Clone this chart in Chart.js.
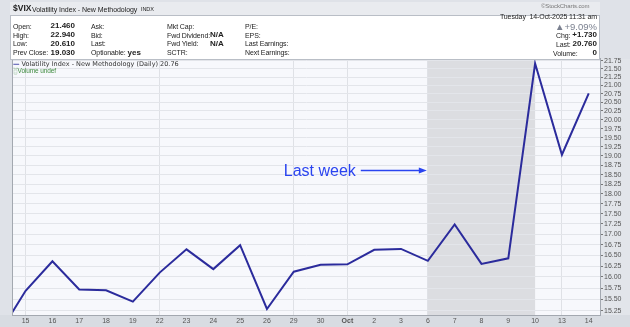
<!DOCTYPE html>
<html>
<head>
<meta charset="utf-8">
<script src="https://cdn.jsdelivr.net/npm/chart.js@4.4.1/dist/chart.umd.min.js"></script>
<style>
  body { margin: 0; background: #dfe2e8; }
  .wrap { position: relative; width: 630px; height: 327px; overflow: hidden; font-family: 'Liberation Sans', Arial, sans-serif; color: #222; }
  canvas { position: absolute; left: 0; top: 0; }
  .hdr { position: absolute; left: 10px; top: 2px; width: 590px; height: 13px; background: #e9ebef; }
  .info { position: absolute; left: 10px; top: 15px; width: 588px; height: 43px; background: #fff; border: 1px solid #b9bec6; }
  .t { position: absolute; white-space: nowrap; font-size: 7px; line-height: 9px; letter-spacing: -0.1px; }
  .b { font-weight: bold; font-size: 8px; letter-spacing: 0; }
  .r { text-align: right; }
</style>
</head>
<body>
<div class="wrap">
  <canvas id="chart" width="630" height="327"></canvas>
  <div class="hdr"></div>
  <div class="info"></div>
  <div class="t b" style="left:13px;top:4px;font-size:8.5px;">$VIX</div>
  <div class="t" style="left:32px;top:4.5px;font-size:7px;letter-spacing:-0.05px;">Volatility Index - New Methodology</div>
  <div class="t" style="left:141px;top:5px;font-size:5.5px;">INDX</div>
  <div class="t" style="left:541px;top:1.5px;font-size:6px;color:#777;">&copy;StockCharts.com</div>

  <div class="t" style="left:13px;top:21.5px;">Open:</div>
  <div class="t" style="left:13px;top:30.5px;">High:</div>
  <div class="t" style="left:13px;top:39px;">Low:</div>
  <div class="t" style="left:13px;top:48px;">Prev Close:</div>
  <div class="t b r" style="left:40px;width:35px;top:21px;">21.460</div>
  <div class="t b r" style="left:40px;width:35px;top:30px;">22.940</div>
  <div class="t b r" style="left:40px;width:35px;top:38.5px;">20.610</div>
  <div class="t b r" style="left:40px;width:35px;top:47.5px;">19.030</div>

  <div class="t" style="left:91px;top:21.5px;">Ask:</div>
  <div class="t" style="left:91px;top:30.5px;">Bid:</div>
  <div class="t" style="left:91px;top:39px;">Last:</div>
  <div class="t" style="left:91px;top:48px;">Optionable: <span class="b">yes</span></div>

  <div class="t" style="left:167px;top:21.5px;">Mkt Cap:</div>
  <div class="t" style="left:167px;top:30.5px;">Fwd Dividend:</div>
  <div class="t" style="left:167px;top:39px;">Fwd Yield:</div>
  <div class="t" style="left:167px;top:48px;">SCTR:</div>
  <div class="t b" style="left:210px;top:30px;">N/A</div>
  <div class="t b" style="left:210px;top:38.5px;">N/A</div>

  <div class="t" style="left:245px;top:21.5px;">P/E:</div>
  <div class="t" style="left:245px;top:30.5px;">EPS:</div>
  <div class="t" style="left:245px;top:39px;">Last Earnings:</div>
  <div class="t" style="left:245px;top:48px;">Next Earnings:</div>

  <div class="t r" style="left:480px;width:117px;top:12px;">Tuesday&nbsp; 14-Oct-2025 11:31 am</div>
  <div class="t r" style="left:520px;width:77px;top:20.5px;font-size:9.5px;line-height:11px;letter-spacing:0;color:#7b8190;">&#9650;+9.09%</div>
  <div class="t" style="left:556px;top:30.5px;">Chg:</div>
  <div class="t b r" style="left:560px;width:37px;top:30px;">+1.730</div>
  <div class="t" style="left:556px;top:39.5px;">Last:</div>
  <div class="t b r" style="left:560px;width:37px;top:39px;">20.760</div>
  <div class="t" style="left:553px;top:48.5px;">Volume:</div>
  <div class="t b r" style="left:560px;width:37px;top:48px;">0</div>

  <div class="t" style="left:13px;top:60px;font-size:6.5px;letter-spacing:0;font-family:'DejaVu Sans';color:#333;"><span style="color:#2b2b9c;font-weight:bold;">&mdash;</span> Volatility Index - New Methodology (Daily) 20.76</div>
  <div class="t" style="left:13px;top:66px;font-size:6.5px;color:#3d8a3d;">&#9617;Volume undef</div>
</div>
<script>
  // trading days, first one (Sep 12) sits just left of the visible window
  const categories = ['12', '15', '16', '17', '18', '19', '22', '23', '24', '25', '26', '29', '30',
    'Oct', '2', '3', '6', '7', '8', '9', '10', '13', '14'];
  const vixClose = [14.76, 15.69, 16.36, 15.72, 15.70, 15.45, 16.10, 16.64, 16.18, 16.74, 15.29, 16.12, 16.28,
    16.29, 16.63, 16.65, 16.37, 17.24, 16.30, 16.43, 21.66, 19.03, 20.76];
  const yTicks = [15.25, 15.5, 15.75, 16, 16.25, 16.5, 16.75, 17, 17.25, 17.5, 17.75, 18, 18.25, 18.5,
    18.75, 19, 19.25, 19.5, 19.75, 20, 20.25, 20.5, 20.75, 21, 21.25, 21.5, 21.75];
  const gridDays = ['15', '22', '29', 'Oct', '6', '13'];
  const shadeFrom = '6';
  const shadeTo = '10';
  const noteText = 'Last week';
  const noteValue = 18.63;

  const idx = (label) => categories.indexOf(label);

  const chartFrame = {
    id: 'chartFrame',
    beforeDraw(chart) {
      const { ctx, chartArea: a } = chart;
      ctx.save();
      ctx.fillStyle = '#e2e5ea';
      ctx.fillRect(a.right, a.top, chart.width - a.right, chart.height - a.top);
      ctx.fillStyle = '#d8dce2';
      ctx.fillRect(0, a.bottom, chart.width, chart.height - a.bottom);
      ctx.fillStyle = '#f7f8fc';
      ctx.fillRect(a.left, a.top, a.right - a.left, a.bottom - a.top);
      const x = chart.scales.x;
      const x0 = x.getPixelForValue(idx(shadeFrom));
      const x1 = x.getPixelForValue(idx(shadeTo));
      ctx.fillStyle = '#dcdde1';
      ctx.fillRect(x0, a.top, x1 - x0, a.bottom - a.top);
      ctx.restore();
    },
    afterDraw(chart) {
      const { ctx, chartArea: a } = chart;
      const x = chart.scales.x;
      const y = chart.scales.y;
      ctx.save();
      ctx.strokeStyle = '#a3a8b0';
      ctx.lineWidth = 1;
      ctx.strokeRect(a.left - 0.5, a.top - 0.5, a.right - a.left + 1, a.bottom - a.top + 1);

      // "Last week" arrow
      const tipX = x.getPixelForValue(idx(shadeFrom)) - 1;
      const tailX = x.getPixelForValue(idx(shadeFrom) - 2.5);
      const py = Math.round(y.getPixelForValue(noteValue)) + 0.5;
      ctx.strokeStyle = '#2a44f0';
      ctx.fillStyle = '#2a44f0';
      ctx.lineWidth = 1.3;
      ctx.beginPath();
      ctx.moveTo(tailX, py);
      ctx.lineTo(tipX - 6, py);
      ctx.stroke();
      ctx.beginPath();
      ctx.moveTo(tipX, py);
      ctx.lineTo(tipX - 8, py - 3);
      ctx.lineTo(tipX - 8, py + 3);
      ctx.closePath();
      ctx.fill();
      ctx.font = '16px "Liberation Sans", Arial, sans-serif';
      ctx.textAlign = 'right';
      ctx.textBaseline = 'middle';
      ctx.fillText(noteText, tailX - 5, py + 1);
      ctx.restore();
    },
  };

  const chart = new Chart(document.getElementById('chart'), {
    type: 'line',
    data: {
      datasets: [
        {
          data: vixClose.map((v, i) => ({ x: i, y: v })),
          borderColor: '#2b2b9c',
          borderWidth: 2,
          pointRadius: 0,
          tension: 0,
          fill: false,
        },
      ],
    },
    options: {
      responsive: false,
      animation: false,
      layout: { padding: { left: 13, top: 59, right: 0, bottom: 0 } },
      plugins: { legend: { display: false }, tooltip: { enabled: false } },
      scales: {
        x: {
          type: 'linear',
          min: 0.53,
          max: categories.length - 1 + 0.42,
          afterBuildTicks: (scale) => {
            scale.ticks = categories.slice(1).map((c, i) => ({ value: i + 1 }));
          },
          afterFit: (scale) => { scale.height = 12; },
          border: { display: false },
          grid: {
            drawTicks: false,
            color: (ctx) => (ctx.tick && gridDays.includes(categories[ctx.tick.value]) ? '#dfe1e6' : 'rgba(0,0,0,0)'),
          },
          ticks: {
            autoSkip: false,
            maxRotation: 0,
            padding: 2,
            color: '#555',
            font: (ctx) => ({
              family: '"Liberation Sans", Arial, sans-serif',
              size: 7,
              weight: ctx.tick && categories[ctx.tick.value] === 'Oct' ? 'bold' : 'normal',
            }),
            callback: (v) => categories[v],
          },
        },
        y: {
          type: 'logarithmic',
          position: 'right',
          min: 15.16,
          max: 21.8,
          afterBuildTicks: (scale) => {
            scale.ticks = yTicks.map((v) => ({ value: v }));
          },
          afterFit: (scale) => { scale.width = 30; },
          border: { display: false },
          grid: { color: '#e3e5ea', tickLength: 3, tickColor: '#777' },
          ticks: {
            autoSkip: false,
            padding: 1,
            color: '#555',
            font: { family: '"Liberation Sans", Arial, sans-serif', size: 7 },
            callback: (v) => Number(v).toFixed(2),
          },
        },
      },
    },
    plugins: [chartFrame],
  });
</script>
</body>
</html>
